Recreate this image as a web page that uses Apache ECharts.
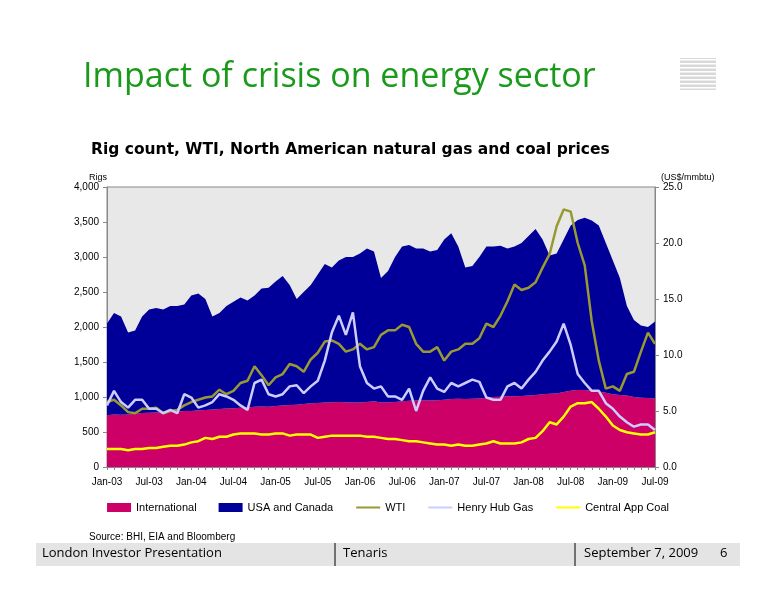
<!DOCTYPE html>
<html><head><meta charset="utf-8">
<script src="https://cdn.jsdelivr.net/npm/echarts@6/dist/echarts.min.js"></script>
<style>html,body{margin:0;padding:0;background:#fff}#c{width:776px;height:600px}</style>
</head><body><div id="c"></div>
<script>
const months = [];
const mn = ['Jan','Feb','Mar','Apr','May','Jun','Jul','Aug','Sep','Oct','Nov','Dec'];
for (let y = 3; y <= 9; y++) for (let m = 0; m < 12; m++) { if (y === 9 && m > 6) break; months.push(mn[m] + '-0' + y); }
const totalRigs = [2050,2200,2150,1920,1950,2150,2250,2270,2250,2300,2300,2320,
 2450,2480,2400,2150,2200,2300,2360,2420,2380,2450,2550,2560,
 2650,2730,2600,2400,2500,2600,2750,2900,2850,2950,3000,3000,
 3050,3120,3080,2700,2800,3000,3150,3170,3120,3120,3080,3100,
 3250,3340,3150,2850,2870,3000,3150,3150,3160,3120,3150,3200,
 3300,3400,3250,3020,3050,3250,3450,3530,3560,3520,3450,3200,
 2950,2700,2300,2100,2020,2000,2080];
const international = [740,750,745,750,760,770,775,780,780,790,790,800,
 800,810,815,820,830,835,840,845,850,860,865,860,
 870,880,885,890,900,910,915,920,925,930,925,920,
 920,930,940,920,925,930,940,945,950,955,950,955,
 960,970,975,970,975,980,990,1000,1005,1010,1010,1015,
 1020,1030,1040,1045,1050,1070,1090,1100,1100,1090,1080,1060,
 1040,1030,1020,1000,990,985,980];
const usaCanada = totalRigs.map((t,i)=>t-international[i]);
const wti = [5.8,6.0,5.5,4.9,4.8,5.2,5.2,5.3,4.8,5.0,5.1,5.5,
 5.8,6.0,6.2,6.3,6.9,6.5,6.8,7.5,7.7,9.0,8.2,7.3,
 8.0,8.3,9.2,9.0,8.5,9.6,10.2,11.2,11.3,11.0,10.3,10.5,
 11.0,10.5,10.7,11.8,12.2,12.2,12.7,12.5,11.0,10.3,10.3,10.7,
 9.5,10.3,10.5,11.0,11.0,11.5,12.8,12.5,13.5,14.8,16.3,15.8,
 16.0,16.5,17.8,19.0,21.5,23.0,22.8,20.0,18.0,13.0,9.5,7.0,
 7.2,6.8,8.3,8.5,10.3,12.0,11.0];
const henryHub = [5.5,6.8,5.8,5.3,6.0,6.0,5.2,5.2,4.8,5.1,4.8,6.5,
 6.2,5.3,5.5,5.8,6.5,6.3,6.0,5.5,5.1,7.5,7.8,6.5,
 6.3,6.5,7.2,7.3,6.6,7.2,7.7,9.5,12.0,13.5,11.8,13.8,
 9.0,7.5,7.0,7.2,6.3,6.3,6.0,7.0,5.0,6.8,8.0,7.0,
 6.7,7.5,7.2,7.5,7.8,7.6,6.2,6.0,6.0,7.2,7.5,7.0,
 7.8,8.5,9.5,10.3,11.2,12.8,10.9,8.3,7.5,6.8,6.8,5.7,
 5.2,4.5,4.0,3.6,3.8,3.8,3.3];
const coal = [1.6,1.6,1.6,1.5,1.6,1.6,1.7,1.7,1.8,1.9,1.9,2.0,
 2.2,2.3,2.6,2.5,2.7,2.7,2.9,3.0,3.0,3.0,2.9,2.9,
 3.0,3.0,2.8,2.9,2.9,2.9,2.6,2.7,2.8,2.8,2.8,2.8,
 2.8,2.7,2.7,2.6,2.5,2.5,2.4,2.3,2.3,2.2,2.1,2.0,
 2.0,1.9,2.0,1.9,1.9,2.0,2.1,2.3,2.1,2.1,2.1,2.2,
 2.5,2.6,3.2,4.0,3.8,4.5,5.4,5.7,5.7,5.8,5.2,4.5,
 3.7,3.3,3.1,3.0,2.9,2.9,3.1];

const chart = echarts.init(document.getElementById('c'));
const F = 'Arial, "Liberation Sans", sans-serif';
const lineS = (name, data, color, w) => ({name, type:'line', yAxisIndex:1, data, symbol:'none', lineStyle:{color, width:w}, itemStyle:{color}, z:5});
chart.setOption({
  animation:false,
  textStyle:{fontFamily:F},
  title:[
    {text:'Impact of crisis on energy sector', left:78, top:55, textStyle:{color:'#1a9a1a', fontSize:34, fontWeight:'normal', fontFamily:'"Open Sans", sans-serif'}},
    {text:'Rig count, WTI, North American natural gas and coal prices', left:86, top:137, textStyle:{color:'#000', fontSize:15.5, fontWeight:'bold', fontFamily:'"DejaVu Sans", sans-serif'}},
    {text:'Rigs', left:84, top:168, textStyle:{fontSize:9, fontWeight:'normal', color:'#000'}},
    {text:'(US$/mmbtu)', left:656, top:168, textStyle:{fontSize:9, fontWeight:'normal', color:'#000'}},
    {text:'Source: BHI, EIA and Bloomberg', left:84, top:527, textStyle:{fontSize:10, fontWeight:'normal', color:'#000'}}
  ],
  graphic:[
    {type:'rect', shape:{x:680,y:58,width:36,height:32}, style:{fill:'#d8d8d8'}},
    ...[0,1,2,3,4,5,6,7].map(i=>({type:'rect', shape:{x:680,y:59+i*4,width:36,height:1.5}, style:{fill:'#fff'}})),
    {type:'rect', shape:{x:36,y:543,width:704,height:23}, style:{fill:'#e4e4e4'}},
    {type:'line', shape:{x1:335,y1:543,x2:335,y2:566}, style:{stroke:'#000',lineWidth:1}},
    {type:'line', shape:{x1:575,y1:543,x2:575,y2:566}, style:{stroke:'#000',lineWidth:1}},
    {type:'text', x:42, y:547, style:{text:'London Investor Presentation', font:'13px "Open Sans", sans-serif', fill:'#000'}},
    {type:'text', x:343, y:547, style:{text:'Tenaris', font:'13px "Open Sans", sans-serif', fill:'#000'}},
    {type:'text', x:584, y:547, style:{text:'September 7, 2009', font:'13px "Open Sans", sans-serif', fill:'#000'}},
    {type:'text', x:720, y:547, style:{text:'6', font:'13px "Open Sans", sans-serif', fill:'#000'}}
  ],
  legend:{bottom:82, left:'center', itemGap:22, itemWidth:24, itemHeight:9, textStyle:{fontSize:11, color:'#000'},
    data:[{name:'International',icon:'rect'},{name:'USA and Canada',icon:'rect'},
      {name:'WTI',itemStyle:{opacity:0}},{name:'Henry Hub Gas',itemStyle:{opacity:0}},{name:'Central App Coal',itemStyle:{opacity:0}}]},
  grid:{left:107, right:121, top:187, bottom:133, show:true, backgroundColor:'#e8e8e8', borderColor:'#888', borderWidth:1},
  xAxis:{type:'category', data:months, boundaryGap:false,
    axisLine:{lineStyle:{color:'#888'}}, axisTick:{interval:0, length:3, lineStyle:{color:'#888'}},
    axisLabel:{interval:5, color:'#000', fontSize:10, margin:10}},
  yAxis:[
    {type:'value', min:0, max:4000, interval:500, splitLine:{show:false},
     axisLine:{show:true, lineStyle:{color:'#888'}}, axisTick:{show:true, length:4},
     axisLabel:{color:'#000', fontSize:10, formatter:v=>v.toLocaleString('en-US')}},
    {type:'value', min:0, max:25, interval:5, splitLine:{show:false},
     axisLine:{show:true, lineStyle:{color:'#888'}}, axisTick:{show:true, length:4},
     axisLabel:{color:'#000', fontSize:10, formatter:v=>v.toFixed(1)}}
  ],
  series:[
    {name:'International', type:'line', stack:'r', data:international, symbol:'none', lineStyle:{width:0}, areaStyle:{color:'#cc0066', opacity:1}, itemStyle:{color:'#cc0066'}},
    {name:'USA and Canada', type:'line', stack:'r', data:usaCanada, symbol:'none', lineStyle:{width:0}, areaStyle:{color:'#000099', opacity:1}, itemStyle:{color:'#000099'}},
    lineS('WTI', wti, '#999933', 2.5),
    lineS('Henry Hub Gas', henryHub, '#ccccff', 2.5),
    lineS('Central App Coal', coal, '#ffff00', 2.5)
  ]
});
</script></body></html>
